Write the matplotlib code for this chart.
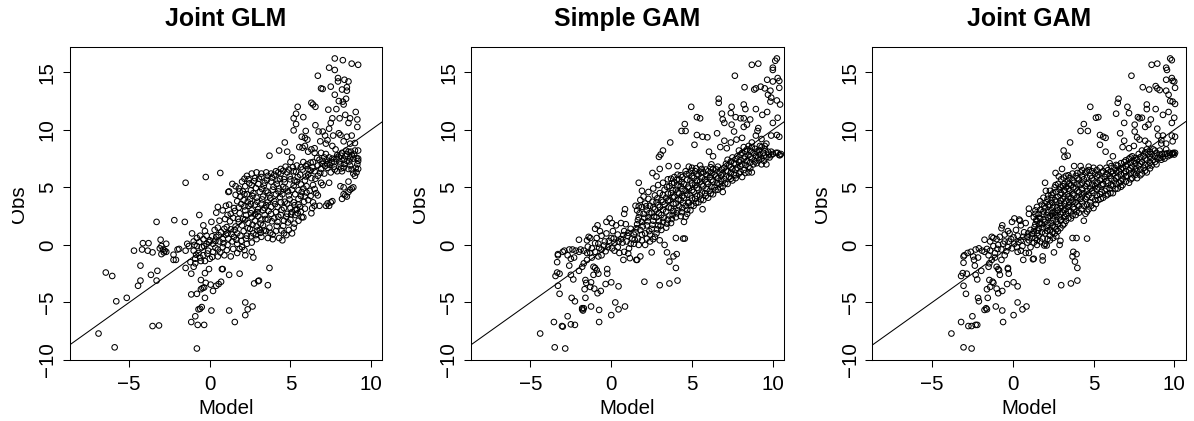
import matplotlib
matplotlib.use("Agg")
import matplotlib.pyplot as plt
from matplotlib.transforms import Bbox

plt.rcParams['font.family'] = ['Liberation Sans', 'DejaVu Sans']

titles = ['Joint GLM', 'Simple GAM', 'Joint GAM']
x_ticks = [-5, 0, 5, 10]
y_ticks = [-10, -5, 0, 5, 10, 15]

# values: scattered points first, then the dense cloud
glm_outer = [(-6.9,-7.7),(-5.9,-8.9),(-5.8,-4.9),(-5.15,-4.6),(-6.45,-2.4),(-6.05,-2.7),(-4.7,-0.5),(-4.3,-1.8),(-4.3,-3.1),(-4.45,-3.55),
 (-4.15,0.15),(-3.8,0.15),(-4.2,-0.4),(-3.85,-0.5),(-3.55,-0.65),(-3.65,-2.6),(-3.25,-2.25),(-3.3,-3.1),(-3.3,2.0),(-3.55,-7.05),(-3.15,-7.0),
 (-3.05,0.45),(-3.1,-0.3),(-3.0,-0.1),(-2.9,-0.4),(-2.8,-0.5),(-3.0,-0.8),(-2.85,-0.65),(-2.7,-0.6),(-2.7,0.1),(-2.2,2.15),(-2.25,-0.85),(-2.25,-1.3),(-2.1,-1.3),
 (-2,-0.4),(-1.9,-0.35),(-1.55,2.0),(-1.5,5.4),(-0.25,5.9),(0.65,6.25),(-0.65,2.6),(-0.8,-9.0),(-1.15,-6.7),(-0.9,-6.2),(-0.75,-6.95),(-0.35,-6.95),
 (0.1,-5.7),(1.55,-6.7),(1.2,-5.7),(2.2,-5.0),(2.35,-5.6),(2.2,-6.1),(2.65,-5.35),(-0.7,-5.6),(-0.6,-5.55),(-0.5,-5.4),(-0.3,-4.6),(-1.15,-4.3),(-0.8,-4.25),
 (-0.55,-3.85),(-0.45,-3.75),(-0.35,-3.7),(-0.55,-3.05),(-0.25,-3.3),(0.05,-3.45),(0.2,-4.0),(0.4,-3.55),(0.55,-3.4),(0.7,-3.2),(1.2,-2.6),(1.85,-2.5),
 (2.75,-3.35),(3.0,-3.15),(3.05,-3.1),(3.6,-3.5),(3.7,-2.0),(-1.15,-2.5),(-0.3,-2.45),(-0.05,-2.1),(0.8,-2.1),(0.75,-2.1),(-1.5,-2.0),(-1.2,-1.5),(-1.0,-1.9),(-0.9,-1.6),
 (7.75,16.2),(8.25,16.05),(8.8,15.75),(9.2,15.65),(7.4,15.4),(7.75,15.2),(6.7,14.7),(7.95,14.5),(8.35,14.35),(8.6,14.2),(7.95,14.2),(7.5,13.75),(6.9,13.6),(7,13.55),
 (8.5,13.7),(8.2,13.5),(8.5,13.4),(7.75,13.05),(8.45,12.7),(8,12.5),(8.25,12.45),(8.3,12.2),(6.3,12.35),(6.4,12.2),(6.55,12),(5.45,12),(7.85,11.8),(7.35,11.75),
 (5.35,11.4),(5.2,11),(5.8,11.1),(7.6,11),(8.05,11),(8.4,11.3),(9.05,11.55),(8.7,11),(9.15,10.9),(8.6,10.6),(7.5,10.6),(6.55,10.4),(5.35,10.5),(5.2,9.95),(9.15,10.25),
 (7.4,10.1),(6.75,9.85),(7,9.85),(5.95,9.9),(5.7,9.4),(5.9,9.3),(6.05,9.15),(7.15,9.5),(7.65,9.5),(8.1,9.55),(8.5,9.4),(6.85,9),(8.3,9),(4.65,8.9),(9,8.85),(8.7,8.8),
 (4.3,8.2),(4.8,8.1),(3.7,7.75),(5.55,8.5),(5.75,8.45),(5.9,8.6),(6.5,8.4),(7.2,8.8),(7.6,8.6),(7.8,8.3),(6.1,8.1),(6.3,8.3),(5.1,7.6),(7.3,9.1),(8.0,9.7),(8.8,9.5)]
glm_core = [(-1.0,0.3),(-0.8,0.6),(-0.6,0.8),(-0.4,0.5),(-0.2,0.8),(-1.1,1.0),(-0.8,-0.1),(-0.5,-0.2),(-0.2,0.1),(0.0,0.4),(0.2,0.1),(0.4,0.7),(0.6,0.3),(0.8,0.5),(1.0,0.9),
 (-1.3,-0.1),(-1.0,-0.5),(-0.7,-0.7),(-0.4,-0.9),(-0.1,-0.5),(0.2,-0.6),(0.5,-0.4),(0.8,-0.2),(1.1,0.0),(1.4,0.3),(1.7,0.1),(2.0,-0.2),(2.3,0.1),(2.6,0.2),(2.9,0.5),(3.2,0.7),
 (-0.9,-1.2),(-0.6,-1.1),(-0.3,-1.4),(0.0,-1.2),(0.5,-1.0),(0.9,-0.9),(1.3,-1.0),(1.7,-0.7),(2.2,-0.9),(2.6,-0.6),(2.7,-1.1),(-1.4,0.1),(-1.5,-0.5),
 (0.1,2.0),(0.3,1.3),(0.5,1.5),(0.6,2.1),(0.7,1.1),(0.9,1.4),(1.1,1.0),(-0.4,1.7),(-0.3,1.2),(0.4,2.8),(0.5,3.3),(0.8,3.0),(1.0,3.4),(1.1,2.6),(1.3,2.7),(1.2,3.5),(1.5,3.2),(1.15,4.6),(1.2,4.65),
 (1.5,0.7),(1.7,1.0),(1.9,0.8),(2.1,1.2),(2.3,0.8),(2.5,1.4),(2.7,1.0),(2.9,1.6),(3.1,1.3),(3.3,1.7),(3.5,1.2),(3.7,1.5),(3.9,0.9),(4.1,1.2),(4.3,0.6),(4.5,0.4),(4.6,1.0),(4.9,1.3),(5.1,1.0),(5.2,1.5),(3.6,0.6),(3.9,0.5),
 (1.6,1.6),(1.8,2.0),(2.0,1.7),(2.2,2.2),(2.4,1.9),(2.6,2.4),(2.8,2.1),(3.0,2.5),(3.2,2.2),(3.4,2.6),(3.6,2.2),(3.8,2.7),(4.0,2.3),(4.2,2.0),(4.4,2.6),(4.6,2.1),(4.8,2.7),(5.0,2.2),(5.3,2.6),(5.5,2.1),(5.7,2.4),
 (2.2,3.0),(2.4,3.4),(2.6,3.0),(2.8,3.5),(3.0,3.1),(3.2,3.6),(3.4,3.2),(3.6,3.7),(3.8,3.3),(4.0,3.8),(4.2,3.3),(4.4,3.7),(4.6,3.2),(4.8,3.6),(5.0,3.2),(5.2,3.7),(5.4,3.1),(5.6,3.3),
 (1.7,3.8),(1.9,4.2),(2.1,3.9),(2.3,4.4),(2.5,4.0),(2.7,4.5),(2.9,4.1),(3.1,4.6),(3.3,4.2),(3.5,4.7),(3.7,4.3),(3.9,4.8),(4.1,4.4),(4.3,4.9),(4.5,4.4),(4.7,4.9),(4.9,4.3),(5.1,4.8),(5.3,4.4),(5.5,4.0),(5.7,4.6),
 (1.4,5.3),(1.6,5.1),(1.8,4.9),(2.0,5.5),(2.2,5.1),(2.4,5.7),(2.6,5.2),(2.8,5.8),(3.0,5.3),(3.2,5.9),(3.4,5.4),(3.6,6.0),(3.8,5.5),(4.0,6.1),(4.2,5.6),(4.4,6.2),(4.6,5.7),(4.8,6.3),(5.0,5.7),(5.2,6.4),(5.4,5.5),(5.6,6.1),
 (2.3,6.0),(2.6,6.2),(2.9,6.3),(3.2,6.2),(3.5,6.3),(3.8,6.2),(4.1,6.4),(4.4,6.6),(4.7,6.8),(5.0,7.2),(5.4,6.9),(5.8,7.2),(6.1,6.6),(6.4,7.2),(6.7,6.9),(7.0,7.3),(7.3,7.0),(7.6,7.5),
 (5.9,5.6),(6.1,6.1),(6.3,5.8),(6.5,6.4),(6.7,6.0),(6.9,6.6),(7.1,6.2),(7.3,6.7),(7.5,6.3),(7.7,6.8),(7.9,6.4),(8.1,7.0),(8.3,6.7),(8.5,7.3),(8.7,6.9),(8.9,7.5),(9.0,6.0),(9.1,6.3),(9.2,6.6),(9.15,7.0),(9.2,7.3),(9.2,7.5),(9.2,8.2),(9.0,8.2),
 (8.0,7.6),(8.2,8.0),(8.4,7.7),(8.6,8.1),(8.8,7.8),(8.5,7.9),(8.3,7.4),(7.9,7.8),(7.7,7.2),(7.4,7.6),(7.1,7.6),(6.8,7.4),(6.5,8.0),(6.9,8.0),(7.2,7.9),(8.7,7.5),(8.6,6.6),(8.9,6.2),
 (5.8,4.9),(6.0,5.1),(6.2,4.7),(6.4,5.2),(6.6,4.5),(6.7,4.3),(6.9,5.4),(7.4,5.4),(7.0,5.2),(5.9,4.2),(6.1,3.9),(6.3,2.75),(6.35,3.2),(6.5,3.4),(6.8,3.4),(6.4,3.7),(5.8,2.4),(5.5,3.5),
 (7.2,3.4),(7.4,3.4),(7.5,3.7),(7.6,3.8),(7.3,3.6),(8.2,4.0),(8.4,4.3),(8.6,4.6),(8.8,4.9),(8.9,5.0),(8.5,4.2),(8.3,4.4),(8.7,4.8),(8.1,5.1),(8.6,5.5),(8.2,6.4),(8.3,5.0)]
glm_dense = [(2.15,5.75),(2.45,5.35),(2.75,5.55),(3.05,5.75),(3.35,5.15),(3.55,5.65),(3.85,5.85),(4.15,5.3),(4.35,5.75),(4.65,5.45),(4.95,5.95),(5.25,5.6),(5.45,5.9),(2.55,4.75),(2.85,4.95),(3.25,4.85),(3.6,4.55),(3.95,5.05),(4.25,4.65),(4.55,5.05),(4.85,4.65),(5.2,5.15),(5.5,4.75),
 (2.05,4.65),(2.35,3.75),(2.65,4.25),(2.95,3.75),(3.25,3.95),(3.5,3.45),(3.75,4.05),(4.05,3.55),(4.35,4.15),(4.65,3.75),(4.95,3.95),(5.25,3.45),(2.15,3.35),(2.55,3.55),(2.95,2.85),(3.3,3.0),(3.65,2.95),(4.1,2.85),(4.45,3.05),(4.75,2.45),(5.1,2.85),(5.45,2.75),
 (1.85,2.75),(2.25,2.6),(2.55,2.75),(2.8,2.65),(3.15,1.85),(3.45,2.25),(3.85,2.05),(4.25,2.45),(4.55,1.65),(4.85,1.95),(5.25,1.85),(2.05,2.25),(2.35,1.45),(2.65,1.75),(2.95,1.25),(3.35,1.25),(3.75,1.05),(4.15,1.65),(4.45,1.25),(4.75,0.85),
 (0.35,0.35),(0.55,0.85),(0.85,0.15),(1.15,0.55),(1.35,0.95),(1.65,0.45),(1.95,0.35),(2.25,0.55),(2.55,0.75),(2.85,0.85),(3.15,1.05),(-0.05,0.25),(0.15,0.75),(-0.35,-0.1),(-0.65,0.25),(-0.95,0.0),(-0.15,-0.75),(0.35,-0.25),(0.65,-0.65),(1.05,-0.45),(1.45,-0.35),(1.85,-0.35),(2.15,-0.45),(-0.55,-1.4),(-0.85,-0.85),(0.15,-1.05),
 (1.05,1.55),(1.3,1.35),(1.55,1.3),(1.25,2.05),(0.95,2.25),(1.45,2.35),(1.75,2.25),(1.55,2.95),(1.8,3.25),(1.95,3.55),(1.6,4.35),(1.85,4.65),(2.15,4.4),
 (5.65,5.25),(5.95,5.95),(6.25,6.45),(6.55,5.75),(6.85,6.25),(7.15,6.85),(7.45,6.95),(7.75,6.55),(8.05,7.25),(8.35,7.05),(8.65,7.25),(8.95,7.85),(5.75,6.55),(6.05,7.0),(6.35,6.75),(6.65,7.55),(6.95,7.05),(7.25,7.35),(7.55,7.15),(7.85,7.45),(8.15,7.75),(8.45,8.2),(8.75,8.1),(9.05,6.7),(9.1,7.55),(8.8,6.55),(8.15,6.65),
 (5.15,6.75),(5.35,6.35),(4.9,6.55),(4.55,6.45),(4.25,6.3),(5.65,6.75),(5.95,6.85),(6.25,7.15),(6.0,4.55),(6.25,4.25),(6.5,4.85),(5.65,4.25),(5.85,3.75),(5.65,2.9),(5.9,3.15),(5.3,3.05),(5.05,2.65)]

simple_outer = [(-4.4,-7.7),(-3.5,-8.9),(-2.85,-9),(-3.55,-6.7),(-3.05,-7.05),(-3,-7.1),(-2.5,-6.9),(-2.25,-6.95),(-2.7,-6.2),(-0.75,-6.7),(-0.75,-5.65),(0,-6.1),(-1.8,-5.5),(-1.8,-5.6),(-1.75,-5.7),(-1.7,-5.5),
 (-1.25,-5.35),(0.45,-5.6),(0.85,-5.35),(0.25,-5),(-2.45,-4.6),(-2.25,-4.9),(-1.6,-4.6),(-3.2,-4.25),(-3.3,-3.55),(-0.85,-4.2),(-0.65,-4),(-1.65,-3.85),(-1.3,-3.65),(-1.05,-3.8),(-1.6,-3.05),(-1.55,-3.3),(-1.25,-3.25),
 (-0.35,-3.4),(0,-3.25),(0.45,-3.6),(2.05,-3.2),(3,-3.5),(3.6,-3.35),(4.1,-3.1),(-2.35,-3),(-2.5,-2.6),(-3.45,-2.7),(-3.2,-2.5),(-3.35,-2.4),(-2,-2.25),(-0.25,-2.5),(-0.25,-2.1),(-2.6,-1.8),(-3.35,-1.5),
 (4,-2),(3.6,-1.45),(3.85,-1),(4.05,-0.8),(3.45,-0.65),(3.3,0),(3,0.4),(4,0.6),(4.45,0.55),(4.55,0.55),(2.5,-0.65),(1.8,-1),(1.55,-1.3),(0.75,-1.3),(1.15,-1.15),(1.05,-0.75),(1.6,-1.3),
 (-3.3,-0.8),(-3.3,-0.9),(-3,-0.6),(-2.9,-0.5),(-2.7,-0.9),(-2.5,-1.2),(-2.3,-1.1),(-2.6,-0.4),(-2.4,-0.4),(-2.2,-0.5),(-2,-0.6),(-1.9,-0.4),(-1.7,-0.5),(-1.5,-0.7),(-2,0.45),(-1.4,0.7),(-1.3,0.6),(-1.5,0.4),
 (-1.8,-1.9),(-1.7,-1.6),(-1.5,-1.3),(-1.2,-1.1),(-1.1,-1.9),(-1,-2),(-0.9,-2.2),(-1.1,-2.6),(-0.8,-2.5),(-0.6,-0.9),(-0.8,-1),(-1.0,1.4),(-0.85,1.7),(-0.7,1.2),(-0.3,2),(-0.1,2.3),(0.05,1.9),(0.85,3.1),(0.8,2.7),
 (10.25,16.2),(10.15,16),(9.1,15.75),(8.7,15.65),(10,15.4),(10,15.2),(7.65,14.7),(9.65,14.35),(10.3,14.5),(10.4,14.25),(10,14.2),(8.25,13.7),(9.25,13.75),(8.85,13.5),(8.95,13.6),(9.5,13.6),(10.4,13.65),(9.85,13.4),(9.7,13.05),(9.9,12.8),
 (6.65,12.7),(6.65,12.35),(9.85,12.45),(10.25,12.55),(10.45,12.2),(8.2,12.2),(4.95,12),(7.45,12),(8.3,11.8),(8.95,11.8),(7.4,11.45),(6.85,11.4),(9.65,11.55),(9.35,11.3),(5.3,11.1),(5.5,11),(6.9,10.9),(7.7,11.1),(8,11),(8.2,11),(8.6,10.9),(10.3,11.05),
 (7,10.6),(4.55,10.5),(7.45,10.45),(8.4,10.45),(8.2,10.25),(10,10.6),(4.35,9.9),(4.6,9.9),(9.1,10.15),(9.05,9.9),(7.6,9.85),(6.55,9.7),(5.3,9.55),(5.65,9.4),(5.95,9.35),(7.75,9.15),(8.1,9.3),(7,9.05),(8.95,9.5),(9.3,9.2),(9.9,9.5),(10.25,9.55),(10.4,9.4),
 (3.65,8.9),(5.15,8.7),(6.75,8.5),(7.15,8.4),(3.2,8.2),(3.05,7.85),(2.95,7.65),(6.05,8.1),(6.3,7.7),(3,6.6),(3.55,6.85),(4.1,6.85),(2.55,6.25),(2.8,5.95),(1.7,5.4),(1.9,4.7),(8.7,8.9),(8.5,8.6),(7.4,8.9),(9.6,8.8)]
simple_core = [(-1.2,-0.3),(-1.0,-0.6),(-0.8,0.1),(-0.6,-0.4),(-0.4,0.3),(-0.2,-0.2),(0.0,0.6),(0.2,0.2),(0.4,0.9),(0.6,0.5),(0.8,1.2),(1.0,0.8),(1.2,1.4),(1.4,0.9),(-0.9,0.6),(-0.6,0.8),(-0.3,1.0),(0.1,1.2),(0.3,1.7),(0.6,1.9),(0.9,1.8),
 (0.2,-0.5),(0.5,-0.7),(0.8,-0.6),(1.1,-0.3),(1.4,0.1),(1.7,0.0),(1.9,0.4),(2.1,0.0),(2.4,0.3),(2.6,0.5),(1.2,0.1),(0.7,0.2),(0.4,-0.2),
 (1.5,1.1),(1.6,1.8),(1.7,2.4),(1.6,3.0),(1.5,3.4),(1.8,1.3),(1.9,2.0),(2.0,2.7),(1.9,3.3),(1.8,3.9),(2.1,1.0),(2.2,1.7),(2.3,2.4),(2.2,3.0),(2.1,3.6),(2.0,4.2),(2.4,0.9),(2.5,1.4),(2.6,2.1),(2.5,2.8),(2.4,3.4),(2.3,4.0),(2.3,4.6),
 (2.8,1.0),(2.9,1.7),(2.8,2.4),(2.7,3.1),(2.8,3.7),(2.7,4.3),(2.6,4.9),(3.1,1.3),(3.2,2.0),(3.1,2.6),(3.0,3.3),(3.1,3.9),(3.0,4.5),(2.9,5.2),(3.4,1.5),(3.5,2.2),(3.4,2.9),(3.3,3.5),(3.4,4.1),(3.3,4.8),(3.2,5.4),
 (3.7,1.9),(3.8,2.6),(3.7,3.2),(3.6,3.9),(3.7,4.5),(3.6,5.1),(3.5,5.7),(3.9,5.9),(4.0,2.4),(4.1,3.0),(4.0,3.6),(3.9,4.2),(4.0,4.8),(3.9,5.4),(4.3,2.5),(4.4,3.2),(4.3,3.9),(4.2,4.5),(4.3,5.1),(4.2,5.7),(4.1,6.1),
 (4.5,2.0),(4.7,2.7),(4.6,3.4),(4.5,4.1),(4.6,4.7),(4.5,5.3),(4.4,5.9),(4.6,6.4),(4.8,6.8),(4.9,3.0),(4.8,3.7),(4.9,4.3),(4.8,4.9),(4.9,5.6),(4.8,6.2),(5.1,3.4),(5.2,4.0),(5.1,4.6),(5.2,5.2),(5.1,5.8),(5.2,6.4),(5.0,6.7),
 (5.4,3.7),(5.5,4.3),(5.4,4.8),(5.5,5.5),(5.4,6.1),(5.6,6.6),(5.5,6.9),(5.65,3.1),(5.7,3.9),(5.8,4.5),(5.7,5.1),(5.8,5.7),(5.7,6.3),(6.0,4.1),(6.1,4.7),(6.0,5.3),(6.1,5.9),(6.0,6.4),(6.2,7.0),(6.3,4.4),(6.4,5.0),(6.3,5.5),(6.4,6.1),(6.3,6.6),
 (6.6,4.8),(6.7,5.3),(6.6,5.8),(6.7,6.3),(6.6,6.8),(6.9,4.6),(6.9,5.1),(7.0,5.7),(6.9,6.2),(7.0,6.7),(7.2,5.3),(7.3,5.9),(7.2,6.4),(7.3,6.9),(7.2,7.4),(7.5,5.6),(7.6,6.1),(7.5,6.6),(7.6,7.1),(7.5,7.6),
 (7.7,5.8),(7.9,6.2),(7.8,6.7),(7.9,7.2),(7.8,7.7),(7.9,8.2),(8.1,5.9),(8.2,6.5),(8.1,7.0),(8.2,7.5),(8.1,8.0),(8.2,8.5),(8.5,6.3),(8.5,6.8),(8.4,7.3),(8.5,7.8),(8.4,8.3),(8.7,6.3),(8.8,7.0),(8.7,7.5),(8.8,8.0),(8.7,8.5),
 (9.0,7.1),(9.1,7.6),(9.0,8.1),(9.2,8.6),(9.3,7.0),(9.3,7.5),(9.4,8.0),(9.3,8.5),(9.6,7.0),(9.6,7.6),(9.7,8.1),(9.5,8.6),(9.8,7.6),(9.9,8.1),(10.0,7.9),(10.2,8.0),(10.3,8.0),(10.4,7.8),(10.5,7.9),(10.45,7.8)]
simple_dense = [(1.55,1.45),(1.65,2.15),(1.75,2.75),(1.7,3.35),(1.95,1.6),(2.05,2.35),(2.15,3.35),(2.25,2.05),(2.35,2.75),(2.35,1.2),(2.55,1.75),(2.65,2.45),(2.6,3.25),(2.55,3.75),(2.85,1.35),(2.95,2.05),(2.95,2.75),(2.9,3.45),(2.85,4.05),(3.05,1.65),(3.25,2.35),(3.2,3.05),(3.2,3.75),(3.2,4.35),
 (3.45,1.85),(3.6,2.55),(3.55,3.25),(3.5,3.85),(3.5,4.45),(3.45,5.05),(3.75,2.25),(3.85,2.95),(3.85,3.55),(3.8,4.15),(3.8,4.75),(3.75,5.35),(3.7,5.75),(4.05,2.75),(4.2,3.35),(4.15,3.95),(4.1,4.55),(4.1,5.15),(4.05,5.65),(4.35,2.85),(4.45,3.65),(4.4,4.25),(4.4,4.85),(4.35,5.45),(4.3,6.05),
 (4.6,2.45),(4.7,3.05),(4.75,3.65),(4.7,4.35),(4.75,5.05),(4.7,5.65),(4.65,6.15),(4.95,3.45),(5.0,4.05),(5.0,4.75),(5.0,5.35),(5.0,5.95),(4.95,6.45),(5.25,3.65),(5.3,4.25),(5.3,4.95),(5.3,5.55),(5.3,6.15),(5.25,6.65),(5.55,3.95),(5.6,4.55),(5.6,5.25),(5.6,5.85),(5.55,6.3),
 (5.85,4.25),(5.9,4.85),(5.9,5.45),(5.9,6.05),(5.85,6.55),(6.15,4.45),(6.2,5.05),(6.2,5.65),(6.2,6.25),(6.15,6.75),(6.45,4.75),(6.55,5.35),(6.5,5.95),(6.5,6.55),(6.75,5.0),(6.8,5.55),(6.8,6.05),(6.85,6.55),(7.05,5.35),(7.1,5.95),(7.1,6.45),(7.1,7.05),(7.4,5.75),(7.4,6.25),(7.4,6.75),(7.4,7.25),
 (7.7,6.05),(7.7,6.55),(7.7,7.0),(7.7,7.45),(8.0,6.35),(8.0,6.85),(8.0,7.35),(8.0,7.85),(8.3,6.25),(8.3,6.95),(8.3,7.65),(8.3,8.15),(8.6,6.65),(8.6,7.15),(8.6,7.65),(8.6,8.15),(8.9,7.25),(8.95,7.75),(8.9,8.35),(9.15,7.35),(9.2,7.85),(9.15,8.25),(9.45,7.3),(9.45,7.75),(9.5,8.3),(9.75,7.85),(9.9,7.8),
 (-0.75,-0.25),(-0.45,-0.05),(-0.15,0.35),(0.15,0.55),(0.45,0.3),(0.75,0.85),(1.05,1.05),(1.3,0.55),(1.65,0.55),(1.9,0.9),(2.2,0.55),(0.05,-0.3),(-0.35,-0.55),(0.95,0.3),(1.45,0.45),(2.7,0.7),(-1.3,-0.7),(-1.0,0.15),(-1.45,-0.15)]

joint_outer = [(-3.8,-7.7),(-3.05,-8.9),(-2.55,-9),(-3.2,-6.7),(-2.75,-7.05),(-2.55,-7.05),(-2.3,-6.95),(-2.2,-6.95),(-2.5,-6.2),(-0.6,-6.7),(-0.65,-5.7),(0.05,-6.1),(-1.75,-5.65),(-1.65,-5.5),(-1.6,-5.6),(-1.05,-5.35),
 (0.6,-5.6),(0.85,-5.35),(0.3,-5),(-2.15,-4.6),(-2.1,-4.9),(-1.55,-4.6),(-2.9,-4.25),(-3.05,-3.55),(-0.9,-4.2),(-0.65,-4),(-1.6,-3.85),(-1.4,-3.65),(-1,-3.8),(-1.45,-3.05),(-1.25,-3.2),(-1.2,-3.3),(-0.35,-3.4),(0.05,-3.25),(0.3,-3.6),
 (2.1,-3.2),(3,-3.5),(3.6,-3.35),(4,-3.1),(-2.3,-2.6),(-2.2,-3),(-3.2,-2.7),(-3.1,-2.45),(-2.85,-2.5),(-1.95,-2.25),(-0.25,-2.5),(-0.3,-2.1),(-2.35,-1.8),(-3.05,-1.55),(4,-2),(3.85,-1.45),(3.7,-1),(3.95,-0.8),(3.75,-0.6),
 (2.9,0),(2.95,0.35),(3.7,0.6),(3.95,0.6),(4.6,0.55),(2.55,-0.65),(1.85,-1),(1.85,-1.35),(1.3,-1.2),(0.65,-1.3),(1,-0.7),(1.95,-0.05),(2.1,-0.05),(1.25,-1.25),
 (-3,-0.9),(-3.05,-1),(-2.8,-0.7),(-2.6,-0.6),(-2.45,-1.0),(-2.4,-1.3),(-2.15,-1.1),(-2.3,-0.4),(-2.1,-0.3),(-1.9,-0.5),(-1.75,-0.6),(-1.5,-0.9),(-1.75,0.45),(-1.3,0.7),(-1.2,0.6),(-1.4,0.3),
 (-1.5,-1.9),(-1.45,-1.6),(-1.3,-1.3),(-1.1,-1.1),(-1.0,-1.9),(-0.9,-2.1),(-0.85,-2.2),(-0.8,-2.6),(-0.3,-2.0),(-0.5,-0.9),(-0.7,-1.3),(-0.7,1.45),(-0.65,1.7),(-0.3,1.2),(-0.05,2),(0.1,2.3),(0.45,2.1),(1,3.15),(1,2.7),
 (9.75,16.2),(9.85,16.05),(8.95,15.75),(8.6,15.65),(9.5,15.4),(9.55,15.2),(7.35,14.7),(9.85,14.5),(9.5,14.35),(9.9,14.25),(10,14.2),(8.05,13.7),(8.85,13.8),(8.45,13.5),(8.95,13.6),(9.1,13.45),(9.5,13.4),(10.05,13.65),(9.65,13.05),
 (9.75,12.5),(9.9,12.45),(10.05,12.25),(6.55,12.7),(6.5,12.35),(8.3,12.2),(4.8,12),(7.1,12),(8.3,11.8),(8.85,11.8),(7.2,11.45),(6.4,11.4),(9.65,11.55),(9.3,11.3),(5.15,11.05),(5.3,11.1),(7.75,11.1),(7.85,11),(8,11.05),(8.55,10.9),(10,11.05),
 (6.9,10.6),(4.4,10.5),(7.55,10.45),(8.4,10.45),(8.2,10.25),(9.85,10.6),(4.2,9.9),(4.65,9.9),(8.95,10.1),(9,9.5),(7.55,9.85),(6.65,9.7),(5.4,9.55),(5.6,9.4),(5.75,9.3),(7.7,9.35),(7.85,9.15),(6.9,9.05),(9.3,9.5),(9.2,9.1),(9.85,9.5),(10.05,9.4),(9.9,9),
 (3.55,8.9),(5.4,8.7),(5.75,8.1),(6.2,7.7),(6.8,8.5),(7.2,8.4),(7.5,8.6),(8.2,9.05),(8.4,8.8),(9.2,8.8),(9.5,8.8),(3.15,8.2),(3.2,7.65),(3.4,7.75),(3.05,6.6),(3.8,6.85),(4.2,6.85),(2.65,6.25),(2.85,5.95),(2,5.4),(2.05,4.7),(6,7.1)]
joint_core = [(-1.4,-0.5),(-1.1,-0.7),(-0.9,0.0),(-0.7,-0.4),(-0.5,0.3),(-0.3,-0.2),(-0.1,0.5),(0.1,0.1),(0.3,0.8),(0.5,0.4),(0.7,1.1),(0.9,0.7),(1.1,1.3),(-1.0,0.5),(-0.8,0.7),(-0.5,0.9),(-0.2,1.0),(0.2,1.3),(0.5,1.7),(0.8,1.9),(0.4,2.2),
 (0.3,-0.6),(0.5,-0.5),(0.8,-0.7),(1.1,-0.2),(1.3,0.2),(1.5,0.0),(1.7,0.3),(2.0,0.1),(2.3,0.4),(2.5,0.6),(0.9,0.2),(0.6,-0.1),(1.2,0.6),(1.4,0.6),(1.6,0.8),
 (1.3,1.2),(1.4,1.8),(1.3,2.4),(1.4,3.0),(1.5,1.0),(1.6,1.5),(1.5,2.1),(1.6,2.7),(1.5,3.3),(1.7,3.8),(1.8,1.1),(1.8,1.8),(1.7,2.3),(1.9,2.9),(1.8,3.5),(1.9,4.1),(2.0,1.0),(2.1,1.5),(2.0,2.0),(2.1,2.6),(2.0,3.2),(2.1,3.7),(2.2,4.3),
 (2.3,0.8),(2.3,1.3),(2.4,1.9),(2.3,2.5),(2.4,3.0),(2.3,3.5),(2.4,4.1),(2.3,4.7),(2.6,1.0),(2.6,1.6),(2.5,2.2),(2.6,2.8),(2.5,3.3),(2.6,3.9),(2.5,4.5),(2.6,5.0),(2.8,1.2),(2.8,1.8),(2.9,2.4),(2.8,3.0),(2.9,3.6),(2.8,4.2),(2.9,4.8),(2.8,5.3),
 (3.1,1.7),(3.0,2.2),(3.1,2.8),(3.0,3.4),(3.1,4.0),(3.0,4.5),(3.1,5.1),(3.0,5.7),(3.3,2.1),(3.3,2.7),(3.4,3.3),(3.3,3.8),(3.4,4.4),(3.3,5.0),(3.4,5.5),(3.3,6.0),(3.6,2.3),(3.6,2.9),(3.5,3.5),(3.6,4.1),(3.5,4.7),(3.6,5.2),(3.5,5.8),(3.7,6.2),
 (3.9,2.6),(3.8,3.1),(3.9,3.7),(3.8,4.3),(3.9,4.9),(3.8,5.4),(3.9,6.0),(4.1,2.8),(4.1,3.4),(4.2,4.0),(4.1,4.6),(4.2,5.2),(4.1,5.7),(4.2,6.3),(4.4,2.1),(4.5,2.7),(4.4,3.4),(4.5,4.0),(4.4,4.5),(4.5,5.1),(4.4,5.7),(4.5,6.3),(4.7,6.8),
 (4.7,3.1),(4.8,3.7),(4.7,4.3),(4.8,4.9),(4.7,5.4),(4.8,6.0),(4.7,6.5),(5.0,3.2),(5.1,3.9),(5.0,4.5),(5.1,5.1),(5.0,5.6),(5.1,6.2),(5.0,6.7),(5.3,3.9),(5.4,4.4),(5.3,5.0),(5.4,5.6),(5.3,6.1),(5.4,6.7),(5.6,4.1),(5.7,4.7),(5.6,5.3),(5.7,5.9),(5.6,6.4),
 (5.9,4.4),(6.0,4.9),(5.9,5.4),(6.0,6.0),(5.9,6.5),(6.2,4.5),(6.2,5.1),(6.3,5.6),(6.2,6.2),(6.3,6.7),(6.5,4.9),(6.6,5.4),(6.5,5.9),(6.6,6.4),(6.5,6.9),(6.8,5.2),(6.8,5.7),(6.9,6.2),(6.8,6.7),(6.9,7.2),(7.2,5.4),(7.1,6.0),(7.2,6.5),(7.1,7.0),(7.2,7.5),
 (7.4,5.8),(7.5,6.3),(7.4,6.8),(7.5,7.3),(7.4,7.7),(7.7,5.8),(7.7,6.4),(7.8,6.9),(7.7,7.4),(7.8,7.9),(8.0,6.2),(8.1,6.7),(8.0,7.2),(8.1,7.7),(8.0,8.2),(8.3,6.3),(8.4,6.9),(8.3,7.4),(8.4,7.9),(8.3,8.3),
 (8.6,6.9),(8.7,7.4),(8.6,7.9),(8.7,8.3),(8.9,7.0),(8.95,7.5),(8.9,8.0),(9.1,8.2),(9.2,7.4),(9.25,7.9),(9.4,7.5),(9.45,7.9),(9.5,8.3),(9.6,7.7),(9.7,8.0),(9.75,7.8),(9.85,7.9),(9.95,8.0),(10.0,7.85),(10.05,8.0)]
joint_dense = [(1.35,1.55),(1.45,2.15),(1.4,2.7),(1.55,1.25),(1.65,1.85),(1.65,2.35),(1.7,3.05),(1.85,1.45),(1.9,2.2),(1.85,2.65),(1.95,3.35),(2.15,1.2),(2.2,1.75),(2.2,2.35),(2.2,2.85),(2.2,3.45),(2.15,4.0),(2.45,1.1),(2.45,1.65),(2.5,2.5),(2.45,2.75),(2.45,3.65),(2.4,4.35),
 (2.7,1.35),(2.7,2.0),(2.7,2.6),(2.75,3.25),(2.7,3.75),(2.7,4.6),(2.65,5.2),(2.95,1.45),(2.95,2.1),(2.95,2.65),(2.95,3.2),(2.95,3.85),(2.95,4.35),(2.95,5.05),(3.2,1.85),(3.2,2.45),(3.2,3.05),(3.2,3.6),(3.2,4.2),(3.2,4.75),(3.2,5.3),(3.15,5.85),
 (3.45,2.35),(3.45,2.95),(3.5,3.7),(3.45,4.2),(3.45,4.9),(3.5,5.3),(3.45,6.05),(3.7,2.55),(3.75,3.25),(3.7,3.75),(3.7,4.4),(3.75,5.0),(3.7,5.6),(3.95,2.9),(4.0,3.5),(4.0,4.1),(4.0,4.7),(4.0,5.25),(4.0,5.8),(4.0,6.25),(4.25,3.1),(4.3,3.7),(4.3,4.3),(4.3,4.85),(4.3,5.4),(4.3,5.95),(4.3,6.5),
 (4.6,2.9),(4.6,3.5),(4.6,4.15),(4.6,4.7),(4.6,5.3),(4.6,5.85),(4.6,6.4),(4.85,3.4),(4.9,4.1),(4.9,4.7),(4.9,5.25),(4.9,5.8),(4.9,6.4),(5.15,3.55),(5.2,4.3),(5.2,4.85),(5.2,5.4),(5.2,5.95),(5.2,6.5),(5.45,4.0),(5.5,4.6),(5.5,5.2),(5.5,5.75),(5.5,6.3),(5.8,4.3),(5.8,4.85),(5.8,5.55),(5.8,6.15),(5.8,6.7),
 (6.05,4.5),(6.1,5.2),(6.1,5.75),(6.1,6.35),(6.1,6.85),(6.35,4.85),(6.4,5.3),(6.4,5.8),(6.4,6.4),(6.4,6.95),(6.7,5.05),(6.7,5.55),(6.7,6.1),(6.7,6.6),(6.7,7.1),(7.0,5.5),(7.0,5.95),(7.0,6.4),(7.0,6.85),(7.0,7.35),(7.3,5.7),(7.3,6.2),(7.3,6.65),(7.3,7.15),(7.3,7.6),
 (7.6,6.1),(7.6,6.6),(7.6,7.1),(7.6,7.55),(7.9,6.05),(7.9,6.55),(7.9,7.05),(7.9,7.6),(8.2,6.45),(8.2,6.95),(8.2,7.5),(8.2,8.05),(8.5,6.65),(8.5,7.15),(8.5,7.65),(8.5,8.1),(8.8,7.2),(8.8,7.7),(8.8,8.2),(9.1,7.55),(9.1,7.85),(9.3,7.65),(9.55,7.95),(9.9,7.95),
 (-0.95,-0.35),(-0.6,0.1),(-0.25,0.3),(0.05,0.65),(0.35,0.25),(0.65,0.7),(0.95,1.0),(1.2,0.95),(-0.05,-0.3),(-0.4,-0.55),(0.25,-0.2),(1.0,0.4),(1.5,0.4),(1.85,0.55),(2.15,0.5),(2.7,0.75),(-1.2,-0.1),(-1.6,-0.35)]

panels = [glm_outer + glm_core + glm_dense, simple_outer + simple_core + simple_dense, joint_outer + joint_core + joint_dense]

# pixel boxes of the three plot regions (left, right), top and bottom are shared
left_px = [69.5, 470.7, 872.3]
right_px = [382.5, 784.3, 1185.7]
W, H = 1194, 421

fig = plt.figure(figsize=(W / 100, H / 100), dpi=100)
for i in range(3):
    ax = fig.add_axes([left_px[i] / W, (H - 360) / H, (right_px[i] - left_px[i]) / W, 312.7 / H])
    xs = [p[0] for p in panels[i]]
    ys = [p[1] for p in panels[i]]
    ax.scatter(xs, ys, s=16, facecolors='none', edgecolors='black', linewidths=0.75, clip_on=False)
    ax.axline((0, 0), slope=1, color='black', lw=0.75)
    ax.set_xlim(-8.7, 10.71)
    ax.set_ylim(-10, 17.17)
    ax.set_xticks(x_ticks)
    ax.set_yticks(y_ticks)
    ax.tick_params(length=5, width=0.75, labelsize=14.8, pad=4)
    ax.tick_params(axis='x', pad=6)
    for lab in ax.get_yticklabels():
        lab.set_rotation(90)
        lab.set_va('center')
    for s in ax.spines.values():
        s.set_linewidth(0.75)
    fig.text((left_px[i] + right_px[i]) / 2 / W, 1 - 408 / H, 'Model', ha='center', va='center', fontsize=14.8)
    fig.text((left_px[i] + right_px[i]) / 2 / W, 1 - 19 / H, titles[i], ha='center', va='center', fontsize=17.9, fontweight='bold')
    # the top of the O is cut off in the original file
    obs = fig.text((left_px[i] - 51) / W, 1 - 204 / H, 'Obs', rotation=90, ha='center', va='center', fontsize=14.8)
    obs.set_clip_box(Bbox([[left_px[i] - 57.5, 0], [left_px[i], H]]))
    obs.set_clip_on(True)

fig.savefig('out.png', dpi=100)
